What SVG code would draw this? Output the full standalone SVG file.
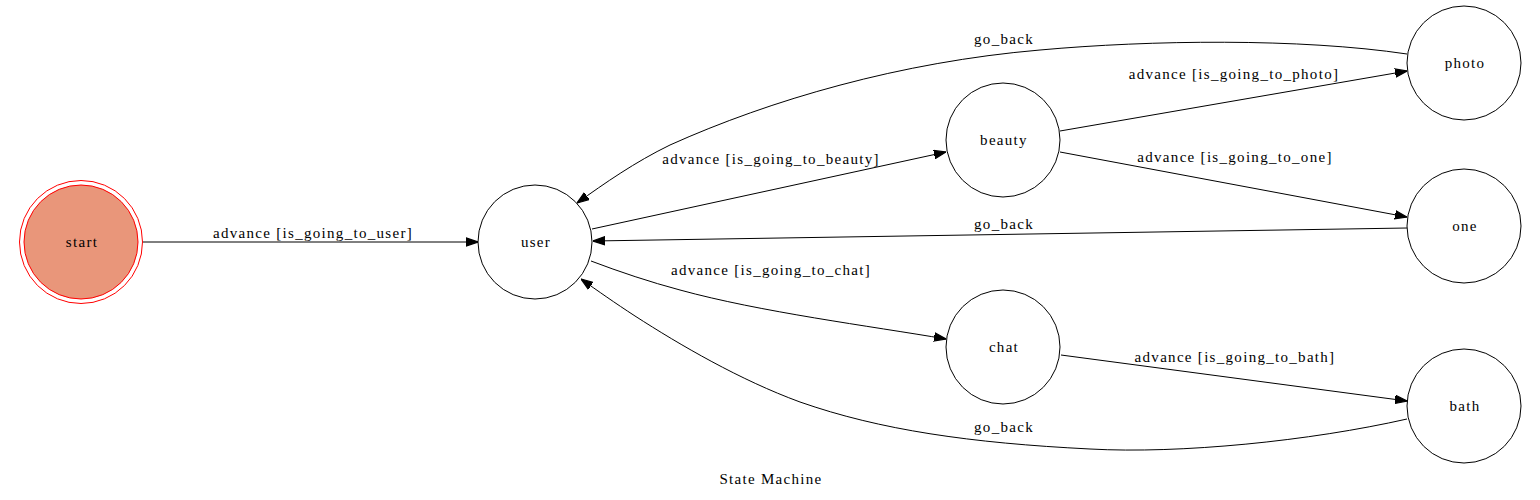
<svg xmlns="http://www.w3.org/2000/svg" width="1540" height="500" viewBox="0 0 1540 500">
<style>
text { font-family: "Liberation Serif", "Times New Roman", serif; font-size: 15px; letter-spacing: 1.3px; fill: #000; text-anchor: middle; }
.node { fill: #fff; stroke: #000; stroke-width: 1; }
.edge { fill: none; stroke: #000; stroke-width: 1; marker-end: url(#arrow); }
</style>
<defs>
<marker id="arrow" markerUnits="userSpaceOnUse" markerWidth="12" markerHeight="10" refX="10" refY="3.5" orient="auto" viewBox="0 0 10 7">
<path d="M0,0 L10,3.5 L0,7 Z" fill="#000" stroke="#000" stroke-width="1"/>
</marker>
</defs>
<rect width="1540" height="500" fill="#fff"/>
<g id="connectors">
<g id="e-start-user"><path class="edge" d="M143,242 L478,242"/><text x="313" y="238">advance [is_going_to_user]</text></g>
<g id="e-user-beauty"><path class="edge" d="M592,229 L946,152"/><text x="771" y="164">advance [is_going_to_beauty]</text></g>
<g id="e-beauty-photo"><path class="edge" d="M1060,131 L1407,71"/><text x="1234" y="79">advance [is_going_to_photo]</text></g>
<g id="e-beauty-one"><path class="edge" d="M1060,152 L1407,217"/><text x="1235" y="162">advance [is_going_to_one]</text></g>
<g id="e-one-user"><path class="edge" d="M1407,228 L593,241"/><text x="1004" y="229">go_back</text></g>
<g id="e-photo-user"><path class="edge" d="M1407,54 C1300,38 1150,40 1040,50 C900,62 770,100 670,145 C635,162 605,183 577,203"/><text x="1004" y="44">go_back</text></g>
<g id="e-user-chat"><path class="edge" d="M591,261 C620,272 650,282 680,290 C760,312 870,326 946,339"/><text x="771" y="275">advance [is_going_to_chat]</text></g>
<g id="e-chat-bath"><path class="edge" d="M1061,355 L1407,401"/><text x="1235" y="362">advance [is_going_to_bath]</text></g>
<g id="e-bath-user"><path class="edge" d="M1407,419 C1310,441 1180,454 1090,449 C970,443 880,430 800,402 C740,380 680,345 635,316 C615,303 598,291 581,279"/><text x="1004" y="432">go_back</text></g>
</g>
<g id="node-start">
<circle cx="81" cy="242" r="61.5" fill="none" stroke="#ff0000"/>
<circle cx="81" cy="242" r="57" fill="#e9967a" stroke="#ff0000"/>
<text x="82" y="247">start</text>
</g>
<g id="node-user"><circle class="node" cx="535" cy="242" r="57"/><text x="536" y="247">user</text></g>
<g id="node-beauty"><circle class="node" cx="1003" cy="140" r="57"/><text x="1004" y="145">beauty</text></g>
<g id="node-photo"><circle class="node" cx="1464" cy="63" r="57"/><text x="1465" y="68">photo</text></g>
<g id="node-one"><circle class="node" cx="1464" cy="226" r="57"/><text x="1465" y="231">one</text></g>
<g id="node-chat"><circle class="node" cx="1003" cy="347" r="57"/><text x="1004" y="352">chat</text></g>
<g id="node-bath"><circle class="node" cx="1464" cy="406" r="57"/><text x="1465" y="411">bath</text></g>
<text id="title" x="771" y="484">State Machine</text>
</svg>
